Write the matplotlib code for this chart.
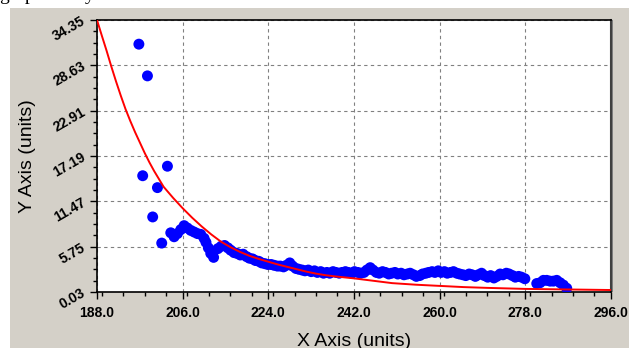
import numpy as np
import matplotlib
matplotlib.use("Agg")
import matplotlib.pyplot as plt
from matplotlib.patches import Rectangle
from matplotlib.ticker import MultipleLocator, FixedLocator

# measured points (x, y)
x_data = [196.8, 198.6, 197.6, 199.7, 200.7, 201.6, 202.8, 203.5, 204.2, 204.9,
          205.6, 206.3, 207.0, 207.7, 208.4, 209.1, 209.8, 210.5, 210.9, 211.4,
          211.9, 212.5, 213.4, 214.1, 214.8, 215.5, 216.1, 216.8, 217.4, 218.1,
          218.7, 219.4, 220.0, 220.7, 221.3, 222.0, 222.6, 223.3, 223.9, 224.6,
          225.2, 225.9, 226.5, 227.2, 227.8, 228.5, 229.1, 229.8, 230.4, 231.1,
          231.7, 232.4, 233.0, 233.7, 234.3, 235.0, 235.6, 236.3, 236.9, 237.6,
          238.2, 238.9, 239.5, 240.2, 240.8, 241.5, 242.1, 242.8, 243.4, 244.1,
          244.7, 245.4, 246.0, 246.7, 247.3, 248.0, 248.6, 249.3, 249.9, 250.6,
          251.2, 251.9, 252.5, 253.2, 253.8, 254.5, 255.1, 255.8, 256.4, 257.1,
          257.7, 258.4, 259.0, 259.7, 260.3, 261.0, 261.6, 262.3, 262.9, 263.6,
          264.2, 264.9, 265.5, 266.2, 266.8, 267.5, 268.1, 268.8, 269.4, 270.1,
          270.7, 271.4, 272.0, 272.7, 273.3, 274.0, 274.6, 275.3, 275.9, 276.6,
          277.2, 277.9, 280.4, 281.1, 281.8, 282.5, 283.2, 283.9, 284.6, 285.3,
          286.0, 286.7]
y_data = [31.3, 27.3, 14.7, 9.5, 13.2, 6.2, 15.9, 7.5, 7.0, 7.4,
          7.9, 8.4, 8.1, 7.8, 7.6, 7.4, 7.3, 6.8, 6.3, 5.6,
          4.9, 4.4, 5.5, 5.8, 5.9, 5.6, 5.3, 5.0, 4.9, 4.7,
          4.8, 4.5, 4.3, 4.2, 4.0, 3.9, 3.7, 3.6, 3.5, 3.5,
          3.4, 3.3, 3.3, 3.2, 3.4, 3.7, 3.3, 3.0, 2.9, 2.8,
          2.7, 2.8, 2.6, 2.7, 2.5, 2.6, 2.4, 2.5, 2.4, 2.6,
          2.5, 2.4, 2.5, 2.6, 2.5, 2.4, 2.6, 2.5, 2.4, 2.5,
          2.8, 3.1, 2.8, 2.5, 2.4, 2.6, 2.5, 2.3, 2.4, 2.5,
          2.3, 2.4, 2.2, 2.3, 2.4, 2.2, 2.0, 2.1, 2.3, 2.4,
          2.5, 2.6, 2.5, 2.7, 2.5, 2.6, 2.4, 2.5, 2.6, 2.4,
          2.3, 2.2, 2.1, 2.3, 2.2, 2.0, 2.2, 2.4, 2.1, 1.9,
          2.1, 1.8, 2.0, 2.3, 2.2, 2.4, 2.3, 2.1, 1.9, 2.0,
          1.9, 1.7, 1.1, 1.2, 1.5, 1.5, 1.4, 1.4, 1.5, 1.2,
          0.9, 0.5]

# fitted curve
x_fit = [188, 189, 190, 191, 192, 193, 194, 195, 196, 197, 198, 199, 200, 202,
         204, 206, 208, 210, 212, 214, 216, 218, 220, 222, 224, 226, 228, 230,
         232, 234, 236, 238, 242, 246, 250, 255, 260, 265, 270, 278, 287, 296]
y_fit = [34.35, 32.4, 30.5, 28.5, 26.6, 24.8, 23.1, 21.6, 20.2, 18.9, 17.6, 16.4,
         15.3, 13.3, 11.9, 10.6, 9.4, 8.3, 7.3, 6.4, 5.7, 5.1, 4.6, 4.2, 3.85,
         3.5, 3.2, 2.9, 2.6, 2.35, 2.15, 2.0, 1.75, 1.45, 1.15, 0.95, 0.8, 0.65,
         0.55, 0.42, 0.35, 0.28]

x_ticks = [188.0, 206.0, 224.0, 242.0, 260.0, 278.0, 296.0]
y_ticks = [0.03, 5.75, 11.47, 17.19, 22.91, 28.63, 34.35]

W, H = 629, 348
panel = '#d4d0c8'

fig = plt.figure(figsize=(W / 100, H / 100), dpi=100, facecolor='white')
fig.patches.append(Rectangle((10 / W, 0), 1, 1 - 8 / H, transform=fig.transFigure,
                             facecolor=panel, edgecolor='none', zorder=-2))
# tail of the page text above the screenshot (cut off in the source too)
fig.text(0.0, 1 - 0.5 / H, 'graph easily.', fontsize=14, family='Liberation Serif',
         va='baseline', ha='left')

ax = fig.add_axes([97 / W, 1 - 292 / H, 514 / W, 272 / H])
ax.set_zorder(5)
ax.set_facecolor('white')

ax.scatter(x_data, y_data, s=62, color='#0000ff', edgecolors='none', zorder=3)
ax.plot(x_fit, y_fit, color='#ff0000', lw=1.4, zorder=4)

ax.set_xlim(188, 296)
ax.set_ylim(0.03, 34.35)
ax.xaxis.set_major_locator(FixedLocator(x_ticks))
ax.xaxis.set_minor_locator(MultipleLocator(4.5))
ax.yaxis.set_major_locator(FixedLocator(y_ticks))
ax.yaxis.set_minor_locator(FixedLocator(np.arange(0.03, 34.36, 1.43)))
ax.set_xticklabels(['%.1f' % v for v in x_ticks], fontsize=10, fontweight='bold',
                   family='Liberation Sans')
ax.set_yticklabels(['%.2f' % v for v in y_ticks], fontsize=10, fontweight='bold',
                   family='Liberation Sans', rotation=30, ha='right', va='center',
                   rotation_mode='anchor')
ax.tick_params(which='major', direction='out', length=5, width=1, color='black', pad=4)
ax.tick_params(which='minor', direction='out', length=3, width=1, color='black')
ax.tick_params(axis='x', pad=5)

ax.grid(True, which='major', color='#808080', linestyle=(0, (3, 3)), lw=0.8, zorder=1)
ax.set_axisbelow(True)

for s in ['left', 'bottom', 'top']:
    ax.spines[s].set_color('black')
    ax.spines[s].set_linewidth(1.2)
ax.spines['right'].set_color('#404040')
ax.spines['right'].set_linewidth(1.5)
# right shadow
fig.patches.append(Rectangle((611 / W, 1 - 292 / H), 2 / W, 272 / H,
                             transform=fig.transFigure, facecolor='#808080',
                             edgecolor='none', zorder=-1))

fig.text(27 / W, 1 - 156 / H, 'Y Axis (units)', rotation=90, fontsize=14,
         family='Liberation Sans', ha='center', va='center')
fig.text(354 / W, 1 - 333 / H, 'X Axis (units)', fontsize=14,
         family='Liberation Sans', ha='center', va='top')

fig.savefig('out.png', dpi=100, facecolor='white')
